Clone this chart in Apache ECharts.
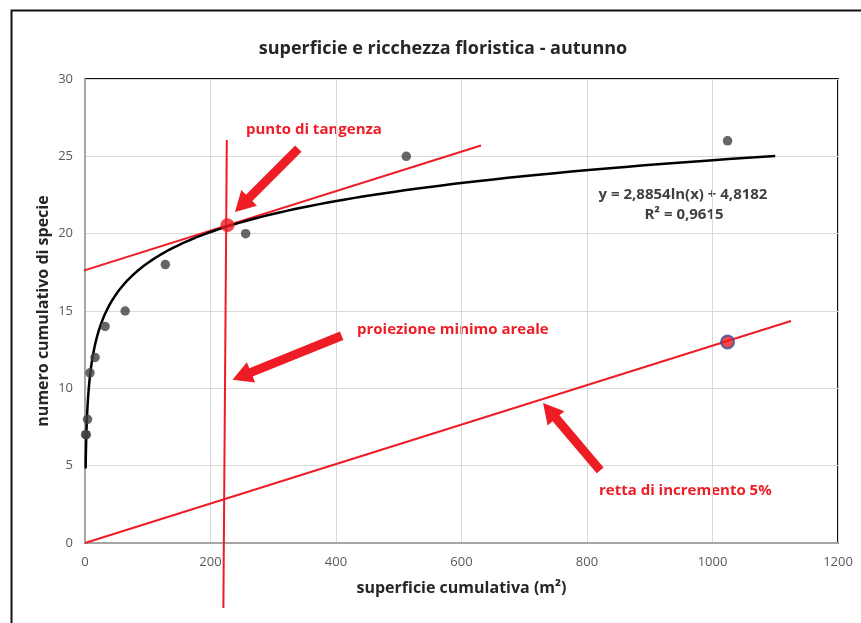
<!DOCTYPE html>
<html><head><meta charset="utf-8">
<script src="https://cdn.jsdelivr.net/npm/echarts@6/dist/echarts.min.js"></script>
<style>html,body{margin:0;padding:0;background:#fff}#c{width:861px;height:623px}</style>
</head><body><div id="c"></div>
<script>
// ---- data ----
const areaX = [1, 2, 4, 8, 16, 32, 64, 128, 256, 512, 1024];
const speciesY = [7, 7, 8, 11, 12, 14, 15, 18, 20, 25, 26];
const trendSlope = 2.8854;
const trendIntercept = 4.8182;
const trendXFrom = 1, trendXTo = 1100;
const tangentLine = [[-42, 17.1], [631, 25.7]];
const projectionLine = [[220.5, -4.2], [226, 26.05]];
const incrementLine = [[0, 0], [1125, 14.35]];
const tangentPoint = [227, 20.55];
const incrementPoint = [1024, 13];
const arrows = [
  [340, 25.5, 239, 21.4],
  [409, 13.4, 235, 10.55],
  [821, 4.7, 730, 9.05]
];
const xTicks = {min: 0, max: 1200, interval: 200};
const yTicks = {min: 0, max: 30, interval: 5};

// ---- build ----
const pts = areaX.map((x, i) => [x, speciesY[i]]);
const trend = [];
for (let i = 0; i <= 200; i++) {
  const x = trendXFrom * Math.pow(trendXTo / trendXFrom, i / 200);
  trend.push([x, trendSlope * Math.log(x) + trendIntercept]);
}
const FONT = '"Open Sans", sans-serif';
const RED = '#ee1c25';

const chart = echarts.init(document.getElementById('c'), null, {renderer: 'canvas'});
chart.setOption({
  animation: false,
  backgroundColor: '#fff',
  title: {
    text: 'superficie e ricchezza floristica - autunno',
    left: 438, top: 35, textAlign: 'center',
    textStyle: {fontFamily: FONT, fontSize: 18, fontWeight: 'bold', color: '#262626'}
  },
  grid: {left: 85, top: 79, right: 23, bottom: 80, show: true, borderColor: '#111', borderWidth: 2, backgroundColor: 'transparent'},
  xAxis: {
    type: 'value', min: xTicks.min, max: xTicks.max, interval: xTicks.interval,
    name: 'superficie cumulativa (m²)', nameLocation: 'middle', nameGap: 37,
    nameTextStyle: {fontFamily: FONT, fontSize: 16, fontWeight: 'bold', color: '#262626'},
    axisLine: {show: true, lineStyle: {color: '#a6a6a6', width: 2}},
    axisTick: {show: false},
    axisLabel: {fontFamily: FONT, fontSize: 13, color: '#595959', margin: 13, formatter: v => String(v)},
    splitLine: {show: true, lineStyle: {color: '#d9d9d9', width: 1}}
  },
  yAxis: {
    type: 'value', min: yTicks.min, max: yTicks.max, interval: yTicks.interval,
    name: 'numero cumulativo di specie', nameLocation: 'middle', nameGap: 34,
    nameMoveOverlap: false,
    nameTextStyle: {fontFamily: FONT, fontSize: 16, fontWeight: 'bold', color: '#262626'},
    axisLine: {show: true, lineStyle: {color: '#a6a6a6', width: 2}},
    axisTick: {show: false},
    axisLabel: {fontFamily: FONT, fontSize: 13, color: '#595959', margin: 12},
    splitLine: {show: true, lineStyle: {color: '#d9d9d9', width: 1}}
  },
  series: [
    {type: 'line', data: incrementLine, symbol: 'none', clip: false, lineStyle: {color: RED, width: 2}, z: 3},
    {type: 'line', data: tangentLine, symbol: 'none', clip: false, lineStyle: {color: RED, width: 2}, z: 3},
    {type: 'line', data: projectionLine, symbol: 'none', clip: false, lineStyle: {color: RED, width: 2}, z: 3},
    {type: 'line', data: trend, symbol: 'none', smooth: false, lineStyle: {color: '#000', width: 2.5}, z: 4},
    {type: 'scatter', data: pts, symbolSize: 9.5, itemStyle: {color: '#404040'}, z: 5},
    {type: 'scatter', data: [tangentPoint], symbolSize: 14, itemStyle: {color: RED}, z: 6},
    {type: 'scatter', data: [incrementPoint], symbolSize: 13, itemStyle: {color: RED, borderColor: '#2f5597', borderWidth: 2}, z: 6},
    {
      type: 'custom', data: arrows, clip: false, z: 7,
      renderItem: function (params, api) {
        const a = api.coord([api.value(0), api.value(1)]);
        const b = api.coord([api.value(2), api.value(3)]);
        const dx = b[0] - a[0], dy = b[1] - a[1];
        const L = Math.sqrt(dx * dx + dy * dy);
        const ux = dx / L, uy = dy / L, nx = -uy, ny = ux;
        const sw = 4.5, hw = 11, hl = 20;
        const bx = b[0] - ux * hl, by = b[1] - uy * hl;
        const p = [
          [a[0] + nx * sw, a[1] + ny * sw],
          [bx + nx * sw, by + ny * sw],
          [bx + nx * hw, by + ny * hw],
          [b[0], b[1]],
          [bx - nx * hw, by - ny * hw],
          [bx - nx * sw, by - ny * sw],
          [a[0] - nx * sw, a[1] - ny * sw]
        ];
        return {type: 'polygon', shape: {points: p}, style: {fill: RED}};
      }
    }
  ],
  graphic: [
    {type: 'rect', left: 9, top: 8, shape: {width: 900, height: 700}, style: {fill: 'none', stroke: '#111', lineWidth: 2}, silent: true},
    {type: 'text', left: 246, top: 122, style: {text: 'punto di tangenza', fill: RED, font: 'bold 15px ' + FONT}},
    {type: 'text', left: 357, top: 322, style: {text: 'proiezione minimo areale', fill: RED, font: 'bold 15px ' + FONT}},
    {type: 'text', left: 599, top: 483, style: {text: 'retta di incremento 5%', fill: RED, font: 'bold 15px ' + FONT}},
    {type: 'text', x: 683, y: 195, style: {text: 'y = 2,8854ln(x) + 4,8182', fill: '#404040', font: 'bold 15px ' + FONT, textAlign: 'center', textVerticalAlign: 'middle'}},
    {type: 'text', x: 684, y: 215, style: {text: 'R² = 0,9615', fill: '#404040', font: 'bold 15px ' + FONT, textAlign: 'center', textVerticalAlign: 'middle'}}
  ]
});
</script></body></html>
